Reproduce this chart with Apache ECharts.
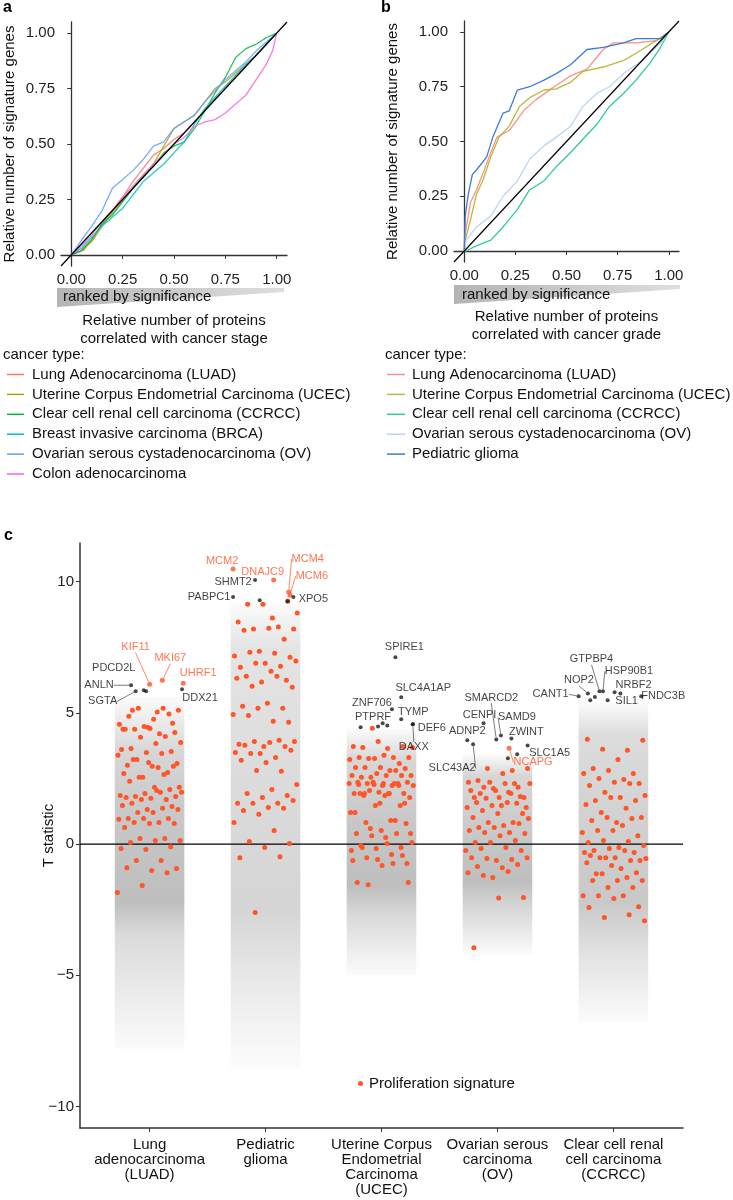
<!DOCTYPE html>
<html><head><meta charset="utf-8">
<script src="https://cdn.jsdelivr.net/npm/echarts@6/dist/echarts.min.js"></script>
<style>html,body{margin:0;padding:0;background:#fff}#c{width:733px;height:1200px}</style>
</head><body><div id="c"></div><script>
// ---------- Panel a: cancer stage ----------
const stageNames = ['Lung Adenocarcinoma (LUAD)','Uterine Corpus Endometrial Carcinoma (UCEC)','Clear cell renal cell carcinoma (CCRCC)','Breast invasive carcinoma (BRCA)','Ovarian serous cystadenocarcinoma (OV)','Colon adenocarcinoma'];
const stageColors = ['#F8766D','#B79F00','#00BA38','#00BFC4','#619CFF','#F564E3'];
const stageLUAD = [[0,0],[0.03,0.01],[0.06,0.02],[0.1,0.07],[0.15,0.14],[0.2,0.2],[0.25,0.26],[0.3,0.33],[0.35,0.39],[0.4,0.45],[0.45,0.48],[0.5,0.52],[0.55,0.55],[0.6,0.6],[0.65,0.65],[0.7,0.71],[0.75,0.76],[0.8,0.8],[0.85,0.85],[0.9,0.9],[0.95,0.95],[1,1]];
const stageUCEC = [[0,0],[0.05,0.02],[0.1,0.06],[0.15,0.13],[0.2,0.19],[0.25,0.24],[0.3,0.3],[0.35,0.35],[0.4,0.41],[0.45,0.49],[0.5,0.57],[0.55,0.6],[0.6,0.63],[0.65,0.69],[0.7,0.75],[0.75,0.78],[0.8,0.82],[0.85,0.86],[0.9,0.9],[0.95,0.95],[1,1]];
const stageCCRCC = [[0,0],[0.05,0.02],[0.1,0.07],[0.15,0.14],[0.2,0.18],[0.25,0.24],[0.3,0.3],[0.35,0.36],[0.4,0.4],[0.45,0.46],[0.5,0.49],[0.55,0.51],[0.6,0.57],[0.65,0.65],[0.7,0.73],[0.75,0.8],[0.8,0.89],[0.85,0.93],[0.9,0.95],[0.95,0.98],[1,1]];
const stageBRCA = [[0,0],[0.05,0.03],[0.1,0.08],[0.15,0.13],[0.2,0.17],[0.25,0.21],[0.3,0.27],[0.35,0.33],[0.4,0.37],[0.45,0.41],[0.5,0.46],[0.55,0.51],[0.6,0.59],[0.65,0.66],[0.7,0.71],[0.75,0.76],[0.8,0.81],[0.85,0.86],[0.9,0.9],[0.95,0.95],[1,1]];
const stageOV = [[0,0],[0.03,0.04],[0.06,0.08],[0.1,0.13],[0.15,0.2],[0.2,0.3],[0.25,0.34],[0.3,0.38],[0.35,0.43],[0.4,0.49],[0.45,0.51],[0.5,0.57],[0.55,0.6],[0.6,0.63],[0.65,0.69],[0.7,0.74],[0.75,0.79],[0.8,0.83],[0.85,0.87],[0.9,0.92],[0.95,0.96],[1,1]];
const stageColon = [[0,0],[0.05,0.04],[0.1,0.09],[0.15,0.15],[0.2,0.2],[0.25,0.26],[0.3,0.31],[0.35,0.36],[0.4,0.41],[0.45,0.45],[0.5,0.5],[0.55,0.53],[0.6,0.58],[0.65,0.6],[0.7,0.61],[0.75,0.64],[0.8,0.68],[0.85,0.72],[0.9,0.79],[0.95,0.86],[0.98,0.92],[1,1]];
const stageSeries = [stageLUAD,stageUCEC,stageCCRCC,stageBRCA,stageOV,stageColon];

// ---------- Panel b: cancer grade ----------
const gradeNames = ['Lung Adenocarcinoma (LUAD)','Uterine Corpus Endometrial Carcinoma (UCEC)','Clear cell renal cell carcinoma (CCRCC)','Ovarian serous cystadenocarcinoma (OV)','Pediatric glioma'];
const gradeColors = ['#FA9088','#B8B83C','#2FCB98','#BCD5F6','#3E7BD6'];
const gradeLUAD = [[0,0],[0.005,0.08],[0.03,0.22],[0.06,0.28],[0.09,0.35],[0.13,0.45],[0.16,0.52],[0.22,0.55],[0.29,0.64],[0.35,0.69],[0.44,0.75],[0.52,0.8],[0.6,0.83],[0.68,0.92],[0.73,0.95],[0.84,0.95],[0.94,0.96],[1,1]];
const gradeUCEC = [[0,0],[0.005,0.05],[0.03,0.14],[0.06,0.26],[0.09,0.32],[0.13,0.43],[0.17,0.52],[0.22,0.57],[0.27,0.66],[0.32,0.7],[0.39,0.735],[0.45,0.74],[0.52,0.77],[0.58,0.82],[0.68,0.84],[0.78,0.87],[0.87,0.92],[0.97,0.98],[1,1]];
const gradeCCRCC = [[0,0],[0.01,0],[0.05,0.02],[0.13,0.05],[0.19,0.11],[0.26,0.19],[0.32,0.28],[0.39,0.32],[0.45,0.385],[0.52,0.45],[0.58,0.51],[0.65,0.58],[0.71,0.66],[0.78,0.72],[0.84,0.78],[0.91,0.86],[0.96,0.93],[1,1]];
const gradeOV = [[0,0],[0.01,0.05],[0.06,0.11],[0.13,0.16],[0.19,0.25],[0.26,0.32],[0.32,0.42],[0.39,0.48],[0.45,0.52],[0.52,0.57],[0.58,0.66],[0.65,0.72],[0.71,0.75],[0.78,0.81],[0.87,0.87],[0.97,0.96],[1,1]];
const gradeGlioma = [[0,0],[0.005,0.16],[0.02,0.26],[0.04,0.35],[0.06,0.37],[0.11,0.43],[0.14,0.52],[0.19,0.63],[0.22,0.64],[0.26,0.735],[0.32,0.75],[0.39,0.78],[0.45,0.81],[0.52,0.85],[0.6,0.92],[0.68,0.93],[0.78,0.95],[0.84,0.97],[0.96,0.97],[1,1]];
const gradeSeries = [gradeLUAD,gradeUCEC,gradeCCRCC,gradeOV,gradeGlioma];
const unitTicks = [0,0.25,0.5,0.75,1];

// ---------- Panel c: T statistics ----------
const tumorCats = ['Lung\nadenocarcinoma\n(LUAD)','Pediatric\nglioma','Uterine Corpus\nEndometrial\nCarcinoma\n(UCEC)','Ovarian serous\ncarcinoma\n(OV)','Clear cell renal\ncell carcinoma\n(CCRCC)'];
const tTicks = [-10,-5,0,5,10];
// background protein cloud extent per cancer type
const cloudMax        = [5.6, 9.2, 4.4, 3.4, 5.4];
const cloudDenseTop   = [3.5, 7.5, 3.2, 2.6, 4.2];
const cloudCoreTop    = [1.0, 2.0, 0.8, 0.2, 0.5];
const cloudCoreBottom = [-2.2, -2.5, -1.6, -1.4, -2.2];
const cloudDenseBottom= [-3.5, -5.0, -2.8, -2.6, -4.0];
const cloudMin        = [-7.8, -8.6, -5.0, -4.2, -6.8];
const cloudDensity    = [1.0, 0.65, 1.0, 1.0, 0.85];
// proliferation signature proteins (T statistic)
const prolifLUAD = [5.03,5.1,4.6,4.45,4.37,5.17,5.17,5.1,4.75,4.87,4.95,4.48,4.56,4.2,4.37,4.25,4.4,4.37,4.1,4.07,3.87,3.83,3.64,3.53,3.49,3.6,3.45,3.22,3.07,2.96,3.0,2.73,2.54,3.38,2.92,3.22,2.96,3.11,2.69,2.65,2.54,2.16,2.16,2.39,2.08,1.93,1.85,1.97,1.81,1.81,1.74,1.77,1.7,1.7,1.97,2.04,1.55,1.43,1.32,1.47,1.36,1.2,1.32,1.2,0.97,0.97,0.97,0.94,0.82,0.82,0.78,0.78,0.63,0.21,0.21,0.13,0.13,0.06,-0.1,-0.21,-0.17,-0.63,-0.63,-0.93,-1.01,-0.9,-1.09,-1.58,-1.85];
const prolifGlioma = [8.8,8.61,9.14,9.25,9.14,8.46,8.27,8.19,8.19,8.22,8.15,7.8,7.35,7.16,7.27,7.31,7.12,6.89,6.74,6.77,6.89,6.97,6.58,6.39,6.24,6.17,6.32,6.39,6.01,5.97,5.36,5.25,5.17,5.17,4.94,4.68,4.9,4.64,3.72,3.8,3.95,3.91,3.91,3.87,3.76,3.72,3.45,3.49,3.3,3.45,3.57,3.11,3.19,2.77,2.8,2.27,2.08,1.93,1.85,1.77,1.55,1.55,1.55,1.66,1.39,1.28,1.36,1.13,0.82,0.52,0.1,0.02,-0.13,-0.52,-0.48,-2.61];
const prolifUCEC = [4.41,3.68,3.64,3.68,3.72,3.91,3.72,3.3,3.26,3.3,3.38,3.3,3.07,3.26,3.22,2.8,2.92,2.88,2.92,2.92,2.8,2.54,2.61,2.61,2.54,2.61,2.69,2.61,2.23,2.31,2.35,2.23,2.35,2.31,2.35,2.23,1.93,1.85,1.93,1.97,1.93,2.31,2.04,1.77,1.85,1.93,1.47,1.47,1.2,0.9,0.82,0.78,0.52,0.4,0.4,0.32,0.06,0.02,-0.13,-0.44,-0.59,-0.63,-0.74,-1.55,-1.47,2.31,2.27,2.23,2.27,2.31,1.93,1.93,1.55,1.55,1.2,0.9,0.59,0.4,0.25,-0.06,-0.13,-0.17,-0.25,-0.4,-0.52,-0.74,-0.82,-1.47];
const prolifOV = [2.8,2.88,2.88,2.69,2.42,2.16,2.12,2.35,1.97,2.16,1.77,1.77,1.77,2.31,2.35,2.31,2.31,1.93,1.81,2.04,2.04,1.93,1.74,1.39,1.47,1.58,1.55,1.47,1.39,1.58,1.28,1.16,1.16,1.01,0.82,0.82,0.97,0.71,0.63,0.78,0.63,0.52,0.44,0.44,0.4,0.32,0.06,0.13,0.06,-0.25,-0.13,-0.17,-0.25,-0.63,-0.52,-0.59,-0.55,-0.52,-0.9,-0.86,-0.78,-1.28,-1.09,-1.05,-1.2,-2.04,-2.06,-3.95];
const prolifCCRCC = [3.99,3.57,3.61,3.95,3.22,2.88,2.69,2.8,2.69,2.46,2.5,2.31,2.35,2.23,2.31,1.97,1.85,1.77,1.66,1.66,1.77,1.51,1.36,1.2,1.01,0.82,0.9,0.97,1.01,0.44,0.71,0.52,0.32,0.52,0.06,0.1,0.13,-0.06,-0.13,-0.25,-0.32,-0.17,-0.32,-0.25,-0.52,-0.63,-0.52,-0.44,-0.63,-0.52,-0.55,-0.93,-1.13,-1.09,-0.82,-0.71,-1.28,-1.13,-1.39,-1.39,-1.39,-1.66,-1.66,-1.97,-1.97,-1.97,-2.39,-2.08,-2.42,-2.69,-2.8,-2.92];
const prolifSets = [prolifLUAD,prolifGlioma,prolifUCEC,prolifOV,prolifCCRCC];
// highlighted proteins
const geneNames = ['KIF11','MKI67','UHRF1','DDX21','PDCD2L','ANLN','SGTA','',
  'MCM2','DNAJC9','SHMT2','PABPC1','MCM4','MCM6','XPO5','','',
  'SPIRE1','SLC4A1AP','ZNF706','TYMP','PTPRF','','','','DEF6','DAXX',
  'SMARCD2','CENPI','SAMD9','ZWINT','ADNP2','SLC43A2','SLC1A5','NCAPG','','',
  'GTPBP4','HSP90B1','NOP2','CANT1','NRBF2','','SIL1','FNDC3B','',''];
const geneCat = [1,1,1,1,1,1,1,1, 2,2,2,2,2,2,2,2,2, 3,3,3,3,3,3,3,3,3,3, 4,4,4,4,4,4,4,4,4,4, 5,5,5,5,5,5,5,5,5,5];
const geneT = [6.09,6.24,6.13,5.9,5.86,6.05,5.82,5.82,
  10.48,10.06,10.06,9.41,9.6,9.49,9.41,9.25,9.29,
  7.12,5.59,5.14,4.75,4.48,4.45,4.6,4.52,4.56,4.56,
  3.98,4.6,4.14,4.02,3.95,3.8,3.75,3.65,3.42,3.27,
  5.82,5.82,5.74,5.63,5.78,5.74,5.48,5.63,5.6,5.48];
const geneProlif = [1,1,1,0,0,0,0,0, 1,1,0,0,1,1,0,0,0, 0,0,0,0,0,0,0,0,0,0, 0,0,0,0,0,0,0,1,0,0, 0,0,0,0,0,0,0,0,0,0];

// ---------- layout-only helpers (not data) ----------
const geneJitter = [0,0.11,0.29,0.28,-0.05,-0.16,-0.12,-0.03,
  -0.28,0.07,-0.09,-0.28,0.2,0.21,0.24,0.19,-0.05,
  0.12,0.17,0.09,0.17,-0.03,-0.18,0.01,0.05,0.27,0.27,
  -0.01,-0.12,0.03,0.12,-0.26,-0.21,0.26,0.1,0.17,0.09,
  -0.12,-0.09,-0.22,-0.3,0.01,0.06,-0.05,0.24,-0.16,-0.2];
const labelOff = [[-14,-37,1],[8,-22,1],[15,-10,0],[18,9,0],[-30,-22,0],[-32,0,1],[-33,10,1],null,
  [-11,-8,0],[-11,-8,0],[-22,2,0],[-24,0,0],[19,-33,1],[22,-19,1],[20,2,0],null,null,
  [9,-10,0],[22,-9,0],[-20,-6,0],[12,-7,0],[-5,-9,0],null,null,null,[19,4,0],[1,23,1],
  [-5,-42,1],[-4,-8,0],[16,-18,1],[15,-7,0],[0,-9,0],[-21,24,1],[22,7,0],[24,14,1],null,null,
  [-8,-32,1],[26,-20,1],[-9,-13,1],[-28,-2,1],[19,-7,0],null,[19,1,0],[22,0,0],null,null];
const cloudAlpha = [0.02, 0.19, 0.26, 0.3, 0.17, 0.02];

const ORANGE = '#FF5527';
const AXC = '#333';
const FONT = '"Liberation Sans", Arial, Helvetica, sans-serif';

function unitAxis(name, gap, isY) {
  return {
    type: 'value', min: -0.05, max: 1.05,
    name: name, nameLocation: 'middle', nameGap: gap, nameMoveOverlap: !isY,
    nameTextStyle: {fontSize: 15, color: '#111', fontFamily: FONT, lineHeight: 18},
    axisLine: {show: true, lineStyle: {color: AXC, width: 1.3}},
    axisTick: {show: true, customValues: unitTicks, length: 4, lineStyle: {color: AXC}},
    axisLabel: {customValues: unitTicks, fontSize: 15, color: '#222', fontFamily: FONT, margin: 6, formatter: v => v.toFixed(2)},
    splitLine: {show: false}
  };
}

const chart = echarts.init(document.getElementById('c'), null, {renderer: 'canvas'});

const series = [];
stageSeries.forEach((d, i) => series.push({
  type: 'line', name: stageNames[i], xAxisIndex: 0, yAxisIndex: 0, data: d, showSymbol: false, symbol: 'none',
  lineStyle: {color: stageColors[i], width: 1.3, opacity: 0.85}, itemStyle: {color: stageColors[i]}, z: 3, silent: true
}));
series.push({type: 'line', xAxisIndex: 0, yAxisIndex: 0, data: [[-0.05,-0.05],[1.05,1.05]], symbol: 'none', lineStyle: {color: '#000', width: 1.2}, z: 4, silent: true});
gradeSeries.forEach((d, i) => series.push({
  type: 'line', name: gradeNames[i] + '\u200b', xAxisIndex: 1, yAxisIndex: 1, data: d, showSymbol: false, symbol: 'none',
  lineStyle: {color: gradeColors[i], width: 1.3}, itemStyle: {color: gradeColors[i]}, z: 3, silent: true
}));
series.push({type: 'line', xAxisIndex: 1, yAxisIndex: 1, data: [[-0.05,-0.05],[1.05,1.05]], symbol: 'none', lineStyle: {color: '#000', width: 1.2}, z: 4, silent: true});

// background clouds (density shading between the read extents)
const cloudData = cloudMax.map((m, i) => [i + 1, m, cloudDenseTop[i], cloudCoreTop[i], cloudCoreBottom[i], cloudDenseBottom[i], cloudMin[i], cloudDensity[i]]);
series.push({
  type: 'custom', xAxisIndex: 2, yAxisIndex: 2, data: cloudData, silent: true, z: 1,
  renderItem: function (params, api) {
    const c = api.value(0);
    const v = [1,2,3,4,5,6].map(k => api.value(k));
    const dens = api.value(7);
    const p0 = api.coord([c - 0.3, v[0]]);
    const p1 = api.coord([c + 0.3, v[5]]);
    const stops = v.map((val, k) => ({offset: (v[0] - val) / (v[0] - v[5]), color: 'rgba(40,40,40,' + (cloudAlpha[k] * dens).toFixed(3) + ')'}));
    return {type: 'rect', shape: {x: p0[0], y: p0[1], width: p1[0] - p0[0], height: p1[1] - p0[1]},
      style: {fill: new echarts.graphic.LinearGradient(0, 0, 0, 1, stops)}};
  }
});
// zero line
series.push({type: 'line', xAxisIndex: 2, yAxisIndex: 2, data: [[0.4,0],[5.6,0]], symbol: 'none', lineStyle: {color: '#000', width: 1.2}, z: 2, silent: true});
// proliferation points
const prolifData = [];
prolifSets.forEach((arr, ci) => arr.forEach((t, i) => {
  const j = (((i + 1) * 0.6180339887 + ci * 0.37) % 1 - 0.5) * 0.56;
  prolifData.push([ci + 1 + j, t]);
}));
series.push({type: 'scatter', name: 'Proliferation signature', xAxisIndex: 2, yAxisIndex: 2, data: prolifData,
  symbolSize: 5, itemStyle: {color: ORANGE, opacity: 1}, z: 5, silent: true});
// labelled proteins
const geneData = geneNames.map((n, i) => {
  const o = labelOff[i];
  const col = geneProlif[i] ? ORANGE : '#1a1a1a';
  return {
    name: n, value: [geneCat[i] + geneJitter[i], geneT[i]],
    symbolSize: geneProlif[i] ? 5 : 4,
    itemStyle: {color: col},
    label: {show: !!n, color: geneProlif[i] ? ORANGE : '#111'},
    labelLine: {show: !!(o && o[2]), lineStyle: {color: geneProlif[i] ? ORANGE : '#444', width: 0.7}}
  };
});
series.push({type: 'scatter', xAxisIndex: 2, yAxisIndex: 2, data: geneData, z: 6, silent: true,
  label: {show: true, formatter: p => p.name, fontSize: 11, fontFamily: FONT},
  labelLine: {show: false, smooth: false, length2: 0},
  labelLayout: function (p) {
    const o = labelOff[p.dataIndex];
    if (!o) return {};
    return {x: p.rect.x + p.rect.width / 2 + o[0], y: p.rect.y + p.rect.height / 2 + o[1], align: 'center', verticalAlign: 'middle'};
  }
});

const option = {
  animation: false,
  backgroundColor: '#fff',
  textStyle: {fontFamily: FONT},
  grid: [
    {left: 58, top: 22, width: 229, height: 244},
    {left: 454, top: 21, width: 225, height: 241},
    {left: 80, top: 543, width: 603, height: 585}
  ],
  xAxis: [
    Object.assign(unitAxis('Relative number of proteins\ncorrelated with cancer stage', 46, false), {gridIndex: 0}),
    Object.assign(unitAxis('Relative number of proteins\ncorrelated with cancer grade', 46, false), {gridIndex: 1}),
    {type: 'value', gridIndex: 2, min: 0.4, max: 5.6,
      axisLine: {show: true, onZero: false, lineStyle: {color: AXC, width: 1.5}},
      axisTick: {show: true, customValues: [1,2,3,4,5], length: 4, lineStyle: {color: AXC}},
      axisLabel: {customValues: [1,2,3,4,5], formatter: v => tumorCats[Math.round(v) - 1], fontSize: 15, lineHeight: 15, color: '#111', fontFamily: FONT, margin: 9},
      splitLine: {show: false}}
  ],
  yAxis: [
    Object.assign(unitAxis('Relative number of signature genes', 42, true), {gridIndex: 0}),
    Object.assign(unitAxis('Relative number of signature genes', 52, true), {gridIndex: 1}),
    {type: 'value', gridIndex: 2, min: -10.82, max: 11.47,
      name: 'T statistic', nameLocation: 'middle', nameGap: 24, nameMoveOverlap: false,
      nameTextStyle: {fontSize: 15, color: '#111', fontFamily: FONT},
      axisLine: {show: true, onZero: false, lineStyle: {color: AXC, width: 1.5}},
      axisTick: {show: true, customValues: tTicks, length: 4, lineStyle: {color: AXC}},
      axisLabel: {customValues: tTicks, fontSize: 15, color: '#222', fontFamily: FONT, margin: 6, formatter: v => v < 0 ? '\u2212' + Math.abs(v) : String(v)},
      splitLine: {show: false}}
  ],
  legend: [
    {data: stageNames, left: 2, top: 362, orient: 'vertical', icon: 'rect', itemWidth: 17, itemHeight: 1.5, itemGap: 4.9,
      textStyle: {fontSize: 15, color: '#111', fontFamily: FONT, padding: [0,0,0,3]}, selectedMode: false},
    {data: gradeNames.map(n => n + '\u200b'), left: 382, top: 362, orient: 'vertical', icon: 'rect', itemWidth: 18, itemHeight: 1.5, itemGap: 4.9,
      formatter: n => n.replace(/\u200b/g, ''),
      textStyle: {fontSize: 15, color: '#111', fontFamily: FONT, padding: [0,0,0,2]}, selectedMode: false},
    {data: ['Proliferation signature'], left: 353, top: 1071, icon: 'circle', itemWidth: 5, itemHeight: 5,
      textStyle: {fontSize: 15, color: '#111', fontFamily: FONT, padding: [0,0,0,1]}, selectedMode: false}
  ],
  graphic: [
    {type: 'text', left: 3, top: 0, style: {text: 'a', font: 'bold 16px ' + FONT, fill: '#000'}},
    {type: 'text', left: 381, top: 0, style: {text: 'b', font: 'bold 16px ' + FONT, fill: '#000'}},
    {type: 'text', left: 4, top: 528, style: {text: 'c', font: 'bold 16px ' + FONT, fill: '#000'}},
    {type: 'polygon', shape: {points: [[57,288],[284,288],[284,292],[57,307]]}, style: {fill: new echarts.graphic.LinearGradient(0,0,1,0,[{offset:0,color:'#b4b4b4'},{offset:1,color:'#dedede'}])}},
    {type: 'text', x: 63, y: 297, style: {text: 'ranked by significance', font: '15px ' + FONT, fill: '#111', textVerticalAlign: 'middle'}},
    {type: 'polygon', shape: {points: [[454,285],[680,285],[680,289],[454,304]]}, style: {fill: new echarts.graphic.LinearGradient(0,0,1,0,[{offset:0,color:'#b4b4b4'},{offset:1,color:'#dedede'}])}},
    {type: 'text', x: 462, y: 295, style: {text: 'ranked by significance', font: '15px ' + FONT, fill: '#111', textVerticalAlign: 'middle'}},
    {type: 'text', x: 3, y: 355, style: {text: 'cancer type:', font: '15px ' + FONT, fill: '#111', textVerticalAlign: 'middle'}},
    {type: 'text', x: 385, y: 355, style: {text: 'cancer type:', font: '15px ' + FONT, fill: '#111', textVerticalAlign: 'middle'}}
  ],
  series: series
};
chart.setOption(option);
</script></body></html>
